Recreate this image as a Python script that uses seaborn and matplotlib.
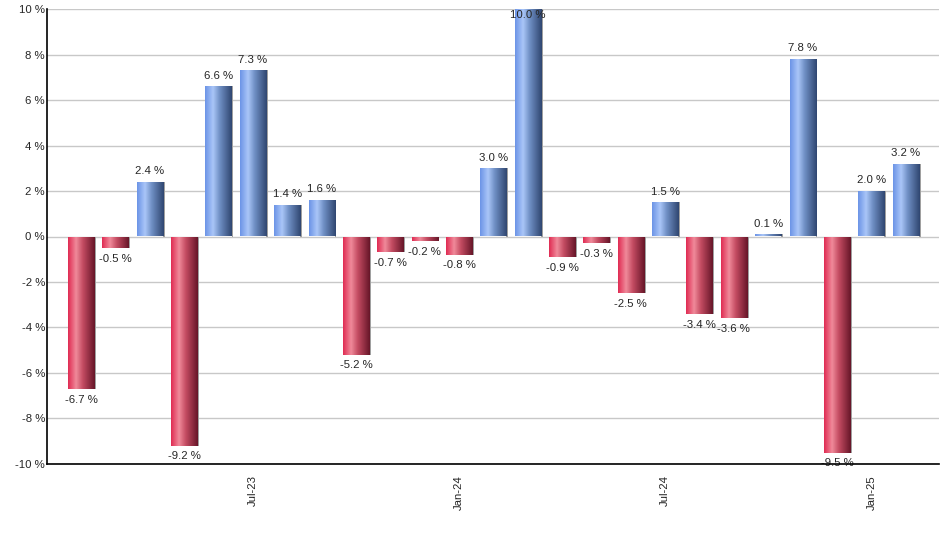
import numpy as np
import pandas as pd
import matplotlib
matplotlib.use("Agg")
import matplotlib.pyplot as plt
from matplotlib.colors import LinearSegmentedColormap
import seaborn as sns

months = ["Feb-23", "Mar-23", "Apr-23", "May-23", "Jun-23", "Jul-23", "Aug-23", "Sep-23",
          "Oct-23", "Nov-23", "Dec-23", "Jan-24", "Feb-24", "Mar-24", "Apr-24", "May-24",
          "Jun-24", "Jul-24", "Aug-24", "Sep-24", "Oct-24", "Nov-24", "Dec-24", "Jan-25", "Feb-25"]
returns = [-6.7, -0.5, 2.4, -9.2, 6.6, 7.3, 1.4, 1.6, -5.2, -0.7, -0.2, -0.8, 3.0, 10.0,
           -0.9, -0.3, -2.5, 1.5, -3.4, -3.6, 0.1, 7.8, -9.5, 2.0, 3.2]
tick_labels = ["Jul-23", "Jan-24", "Jul-24", "Jan-25"]
y_ticks = [-10, -8, -6, -4, -2, 0, 2, 4, 6, 8, 10]

df = pd.DataFrame({"month": months, "ret": returns})

sns.set_style("white")
plt.rcParams["font.family"] = ["Liberation Sans", "DejaVu Sans"]

fig = plt.figure(figsize=(9.4, 5.5), dpi=100)
ax = fig.add_axes([0.05, 0.1564, 0.949, 0.8272])

sns.barplot(data=df, x="month", y="ret", ax=ax, width=0.76, color="#7a9be0",
            saturation=1, edgecolor="none", linewidth=0, zorder=3)

red_cmap = LinearSegmentedColormap.from_list(
    "r", [(0, "#e02a52"), (0.3, "#f08a9a"), (0.55, "#c44c62"), (1, "#661528")])
blue_cmap = LinearSegmentedColormap.from_list(
    "b", [(0, "#6b93e6"), (0.3, "#aac6f8"), (0.55, "#6f8fc4"), (1, "#2f4670")])
grad = np.linspace(0, 1, 256).reshape(1, -1)

fs = 8.2
ymax = 10
for p, v in zip(ax.patches, returns):
    x0, w = p.get_x(), p.get_width()
    y0, h = p.get_y(), p.get_height()
    ylo, yhi = min(y0, y0 + h), max(y0, y0 + h)
    ax.add_patch(plt.Rectangle((x0 + w, ylo), 0.05, yhi - ylo, color="#a0a0a0",
                               zorder=2.5, linewidth=0))
    cmap = blue_cmap if v >= 0 else red_cmap
    im = ax.imshow(grad, cmap=cmap, aspect="auto", extent=(x0, x0 + w, ylo, yhi),
                   zorder=3.5, interpolation="bilinear")
    im.set_clip_path(p)
    p.set_alpha(0)
    lbl = f"{v:.1f} %"
    if v >= 0:
        if yhi + 0.9 > ymax:
            ax.text(x0 + w / 2, ymax - 0.05, lbl, ha="center", va="top", fontsize=fs,
                    zorder=4)
        else:
            ax.text(x0 + w / 2, yhi + 0.25, lbl, ha="center", va="bottom", fontsize=fs,
                    zorder=1)
    else:
        ax.text(x0 + w / 2, ylo - 0.25, lbl, ha="center", va="top", fontsize=fs,
                zorder=1)

ax.set_xlim(-0.99, 24.97)
ax.set_ylim(-10, ymax)
ax.set_yticks(y_ticks)
ax.set_yticklabels([f"{t} %" for t in y_ticks], fontsize=fs)
ax.grid(axis="y", color="#c8c8c8", linewidth=1, zorder=0)
ax.set_axisbelow(True)

tick_pos = [months.index(t) for t in tick_labels]
ax.set_xticks(tick_pos)
ax.set_xticklabels(tick_labels, rotation=90, fontsize=fs)
ax.tick_params(axis="x", length=5, width=1, color="black", direction="out", pad=3)
ax.tick_params(axis="y", length=0, pad=1.5)
ax.set_xlabel("")
ax.set_ylabel("")

for s in ["top", "right"]:
    ax.spines[s].set_visible(False)
for s in ["left", "bottom"]:
    ax.spines[s].set_color("black")
    ax.spines[s].set_linewidth(1.2)
    ax.spines[s].set_zorder(5)

fig.savefig("out.png", dpi=100)
